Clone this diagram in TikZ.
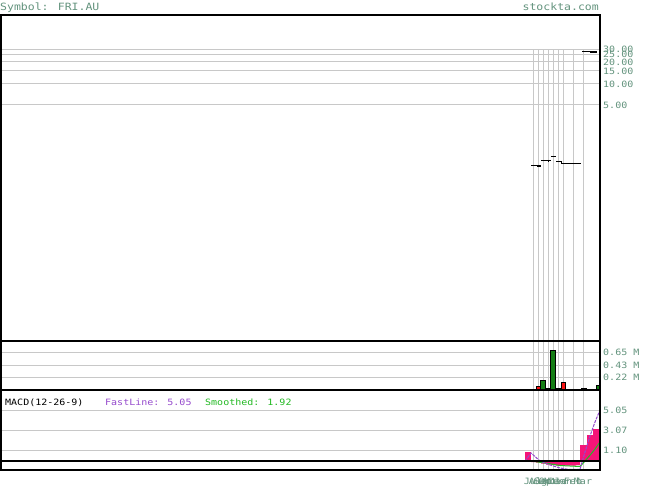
\documentclass[tikz,border=0pt]{standalone}
\usepackage{fontspec}
\usepackage{xcolor}
\newfontfamily\chartfont[FakeStretch=1.15]{DejaVu Sans Mono}
\definecolor{labelgreen}{RGB}{100,148,126}
\definecolor{gridgray}{RGB}{200,200,200}
\definecolor{volgreen}{RGB}{20,125,20}
\definecolor{volred}{RGB}{250,20,20}
\definecolor{histpink}{RGB}{245,20,120}
\definecolor{fastpurple}{RGB}{150,75,205}
\definecolor{smoothgreen}{RGB}{35,185,35}

\begin{document}
\begin{tikzpicture}[x=1pt,y=-1pt,
  bigtext/.style={inner sep=0pt,text=labelgreen,font=\chartfont\fontsize{10}{11}\selectfont},
  axislabel/.style={anchor=base west,inner sep=0pt,text=labelgreen,font=\chartfont\fontsize{8.7}{9}\selectfont},
  monthlabel/.style={anchor=base,inner sep=0pt,text=labelgreen,font=\chartfont\fontsize{8.7}{9}\selectfont},
  legend/.style={anchor=base west,inner sep=0pt,font=\chartfont\fontsize{8.7}{9}\selectfont},
  gridline/.style={gridgray,line width=1pt},
  volbar/.style={draw=black,line width=0.7pt},
  candle/.style={line width=1pt}]
\fill[white] (0,0) rectangle (655,486);
\useasboundingbox (0,0) rectangle (655,486);
% Header
\node[bigtext,anchor=base west] (sym) at (0,10.5) {Symbol: FRI.AU};
\node[bigtext,anchor=base east] (site) at (599,10.5) {stockta.com};
% Grid
\draw[gridline] (0,50)--(600,50) (0,55)--(600,55) (0,62)--(600,62) (0,71)--(600,71)
  (0,84)--(600,84) (0,105)--(600,105);
\draw[gridline] (0,352)--(600,352) (0,365)--(600,365) (0,377)--(600,377);
\draw[gridline] (0,410)--(600,410) (0,430)--(600,430) (0,450)--(600,450);
\draw[gridline] (533,50)--(533,470) (538,50)--(538,470) (543,50)--(543,470) (548,50)--(548,470)
  (553,50)--(553,470) (558,50)--(558,470) (563,50)--(563,470) (573,50)--(573,470) (583,50)--(583,470);
% Price
\draw[candle] (531,166)--(541,166) (551,156.5)--(556,156.5) (556,161.5)--(561,161.5)
  (541,160.5)--(551,160.5) (548,160)--(548,162.5) (561,161)--(561,163.5)--(581,163.5)
  (582,51.5)--(597,51.5);
\fill (537,164.8) rectangle (541,166.8);
\fill (546,159.7) rectangle (551,161.5);
\fill (551,155.8) rectangle (556,157.3);
\fill (590,51.5) rectangle (597,53);
% Volume
\draw[volbar,fill=black] (531,389.3) rectangle (536,390);
\draw[volbar,fill=volred] (536,386.7) rectangle (540.7,390);
\draw[volbar,fill=volgreen] (540.7,380) rectangle (545.7,390);
\draw[volbar,fill=volred] (546.5,388.3) rectangle (550.3,390);
\draw[volbar,fill=volgreen] (550.7,350) rectangle (555.3,390);
\draw[volbar,fill=volred] (556,388.3) rectangle (560,390);
\draw[volbar,fill=volred] (561,382) rectangle (565.3,390);
\draw[volbar,fill=volgreen] (581,388.3) rectangle (586,390);
\draw[volbar,fill=volgreen] (596,385) rectangle (600,390);
% MACD histogram
\fill[histpink] (525,451.7) rectangle (531,461);
\fill[histpink] (531,461) rectangle (536,462) (536,461) rectangle (541,462.5)
  (541,461) rectangle (546,463.5) (546,461) rectangle (551,464.5) (551,461) rectangle (556,465)
  (556,461) rectangle (576,465.5) (576,461) rectangle (580,465);
\fill[histpink] (580,445) rectangle (587,461) (587,435) rectangle (593,461) (593,429) rectangle (600,461);
% MACD lines
\draw[smoothgreen,line width=1pt] (531,461)--(545,463)--(560,465.5)--(580,466.5)--(585,461)
  --(591,454)--(595,449)--(600,442);
\draw[fastpurple,line width=1pt,dash pattern=on 3pt off 1pt] (525,461)--(531,453)--(540,461)
  --(550,465)--(560,468)--(568,469.3)--(580,469.3)--(585,452)--(590,436)--(595,422)--(600,410);
% Frames
\draw[line width=1.3pt] (1,15) rectangle (600,470);
\draw[line width=1.3pt] (1,341)--(600,341) (1,390)--(600,390) (1,461)--(600,461);
% Labels
\node[axislabel] (p30) at (603,53) {30.00};
\node[axislabel] (p25) at (603,58) {25.00};
\node[axislabel] (p20) at (603,65.3) {20.00};
\node[axislabel] (p15) at (603,74.3) {15.00};
\node[axislabel] (p10) at (603,87.3) {10.00};
\node[axislabel] (p5) at (603,108.3) {5.00};
\node[axislabel] (v65) at (603,355.2) {0.65 M};
\node[axislabel] (v43) at (603,368.2) {0.43 M};
\node[axislabel] (v22) at (603,380.5) {0.22 M};
\node[axislabel] (m505) at (603,413.7) {5.05};
\node[axislabel] (m307) at (603,433.7) {3.07};
\node[axislabel] (m110) at (603,453.7) {1.10};
\node[legend] (macd) at (5,405.7) {MACD(12-26-9)};
\node[legend,text=fastpurple] (fast) at (105,405.7) {FastLine: 5.05};
\node[legend,text=smoothgreen] (smooth) at (205,405.7) {Smoothed: 1.92};
% Months
\node[monthlabel] (jul) at (533,484) {Jul};
\node[monthlabel] (aug) at (538,484) {Aug};
\node[monthlabel] (sep) at (543,484) {Sep};
\node[monthlabel] (oct) at (548,484) {Oct};
\node[monthlabel] (nov) at (553,484) {Nov};
\node[monthlabel] (dec) at (558,484) {Dec};
\node[monthlabel] (jan) at (563,484) {Jan};
\node[monthlabel] (feb) at (573,484) {Feb};
\node[monthlabel] (mar) at (583,484) {Mar};
\end{tikzpicture}
\end{document}
